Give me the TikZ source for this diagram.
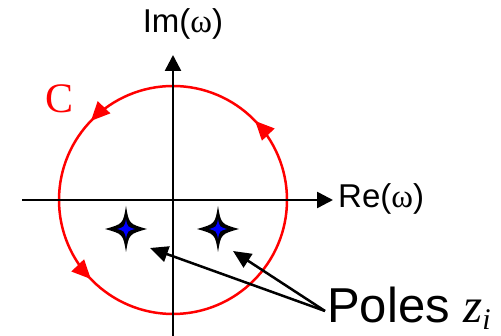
\documentclass[tikz,border=0pt]{standalone}
\usepackage{fontspec}
\setmainfont{Liberation Sans}
\newfontfamily\serif{Liberation Serif}
\usetikzlibrary{arrows.meta,positioning,calc,decorations.markings}
\definecolor{ink}{HTML}{000000}
\definecolor{contourred}{HTML}{FF0000}
\definecolor{poleblue}{HTML}{0000FF}
\tikzset{axis/.style={-{Triangle[length=16pt,width=16pt]},line width=2.5pt,draw=ink}, contour/.style={line width=2.5pt,draw=contourred,postaction={decorate},decoration={markings,
  mark=at position 0.122 with {\arrow{Triangle[length=19pt,width=17pt]}},
  mark=at position 0.378 with {\arrow{Triangle[length=19pt,width=17pt]}},
  mark=at position 0.622 with {\arrow{Triangle[length=19pt,width=17pt]}}}}, polestar/.pic={\fill[ink] (0,23) .. controls (3,5) .. (21,0) .. controls (3,-5) .. (0,-23) .. controls (-3,-5) .. (-21,0) .. controls (-3,5) .. cycle;
  \fill[poleblue] (0,10) .. controls (1.5,2) .. (9,0) .. controls (1.5,-2) .. (0,-10) .. controls (-1.5,-2) .. (-9,0) .. controls (-1.5,2) .. cycle;}, flow/.style={-{Triangle[length=18pt,width=16pt]},line width=2.5pt,draw=ink}, lbl/.style={inner sep=0pt,font=\fontsize{33}{33}\selectfont}}
\begin{document}
\begin{tikzpicture}[x=1pt,y=1pt]
\useasboundingbox (0,0) rectangle (501,336);
\coordinate (o) at (173,136);
\draw[contour] ($(o)+(114,0)$) arc[start angle=0,end angle=360,radius=114];
\draw[axis] (22,136) -- (333,136) coordinate (re);
\draw[axis] (173,0) -- (173,281) coordinate (im);
\node[lbl,anchor=west] (r) at ($(re)+(5,1)$) {Re({\serif ω})};
\node[lbl] (i) at (183,312) {Im({\serif ω})};
\node[inner sep=0pt,text=contourred,font=\serif\fontsize{42}{42}\selectfont] (c) at (60,237) {C};
\coordinate (p1) at (126,107);
\coordinate (p2) at (218,107);
\pic at (p1) {polestar};
\pic at (p2) {polestar};
\node[inner sep=0pt,anchor=base west,font=\fontsize{49}{49}\selectfont] (poles) at (327,13) {Poles {\serif\itshape z\raisebox{-7pt}{\fontsize{30}{30}\selectfont i}}};
\coordinate (src) at (325,25);
\coordinate (t1) at (150,88);
\coordinate (t2) at (233,85);
\draw[flow] (src) -- (t1);
\draw[flow] (src) -- (t2);
\end{tikzpicture}
\end{document}
